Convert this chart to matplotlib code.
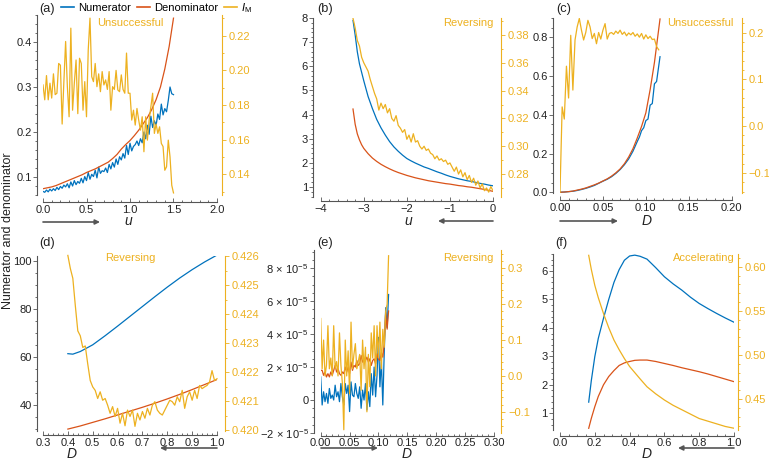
import numpy as np
import matplotlib
matplotlib.use("Agg")
import matplotlib.pyplot as plt
from matplotlib.ticker import MultipleLocator, FuncFormatter
from matplotlib.patches import FancyArrowPatch
from matplotlib.lines import Line2D

plt.rcParams['font.family'] = ['Liberation Sans', 'DejaVu Sans']
plt.rcParams['mathtext.fontset'] = 'custom'
plt.rcParams['mathtext.rm'] = 'Liberation Sans'
plt.rcParams['mathtext.it'] = 'Liberation Sans:italic'

BLUE, ORANGE, YEL = '#0072BD', '#D95319', '#EDB120'
SPINE, TXT, ARROW = '#555555', '#222222', '#555555'

# ---------------- data ----------------
# (a)
a_u_num = np.linspace(0.0, 1.5, 76)
a_num = [0.068,0.066,0.071,0.067,0.073,0.069,0.074,0.070,0.077,0.072,
         0.079,0.075,0.082,0.078,0.085,0.076,0.089,0.080,0.092,0.083,
         0.090,0.086,0.097,0.087,0.101,0.092,0.110,0.095,0.106,0.101,
         0.115,0.098,0.122,0.108,0.114,0.112,0.120,0.110,0.128,0.118,
         0.132,0.122,0.140,0.128,0.145,0.138,0.152,0.142,0.170,0.150,
         0.175,0.158,0.168,0.172,0.180,0.170,0.185,0.176,0.200,0.185,
         0.215,0.195,0.235,0.210,0.225,0.215,0.240,0.228,0.262,0.238,
         0.252,0.245,0.270,0.300,0.285,0.283]
a_u_den = np.linspace(0.0, 1.5, 31)
a_den = [0.074,0.076,0.078,0.081,0.085,0.089,0.093,0.097,0.101,0.105,
         0.110,0.114,0.118,0.123,0.128,0.133,0.141,0.150,0.162,0.172,
         0.181,0.192,0.204,0.218,0.232,0.250,0.272,0.300,0.340,0.390,0.453]
a_im = [0.1916,0.183,0.197,0.183,0.1926,0.184,0.198,0.186,0.1868,0.204,
        0.203,0.169,0.1935,0.2167,0.1906,0.1732,0.2244,0.177,0.1926,0.206,
        0.175,0.207,0.204,0.177,0.1935,0.1732,0.2119,0.2302,0.1964,0.1935,
        0.204,0.1906,0.198,0.1877,0.1993,0.1916,0.1945,0.189,0.1993,0.177,
        0.1906,0.189,0.200,0.1887,0.1877,0.1974,0.189,0.1868,0.210,0.1868,
        0.1868,0.1713,0.177,0.1684,0.178,0.1713,0.1655,0.1732,0.153,0.1732,
        0.1597,0.1713,0.179,0.1868,0.1636,0.169,0.1636,0.1674,0.1578,0.156,
        0.1423,0.1443,0.1597,0.150,0.1336,0.1292]

# (b)
b_u = [-3.25,-3.2,-3.15,-3.1,-3.05,-3.0,-2.9,-2.8,-2.7,-2.6,-2.5,-2.4,-2.3,-2.2,
       -2.1,-2.0,-1.9,-1.8,-1.7,-1.6,-1.5,-1.4,-1.3,-1.2,-1.1,-1.0,-0.9,-0.8,
       -0.7,-0.6,-0.5,-0.4,-0.3,-0.2,-0.1,0.0]
b_num = [7.9,7.3,6.6,6.1,5.75,5.4,4.75,4.25,3.8,3.45,3.15,2.88,2.66,2.48,
         2.32,2.18,2.08,1.99,1.91,1.83,1.77,1.70,1.63,1.57,1.50,1.44,1.39,1.34,
         1.30,1.26,1.23,1.19,1.15,1.12,1.08,1.05]
b_den = [4.23,3.6,3.2,2.95,2.75,2.6,2.38,2.2,2.06,1.94,1.84,1.75,1.67,1.6,
         1.54,1.48,1.43,1.38,1.34,1.30,1.26,1.23,1.20,1.17,1.14,1.12,1.09,1.06,
         1.04,1.01,0.99,0.96,0.93,0.90,0.86,0.82]
b_u_im = np.linspace(-3.25, 0.0, 66)
b_im = [0.392,0.385,0.376,0.372,0.364,0.360,0.357,0.354,0.348,0.343,
        0.338,0.334,0.326,0.331,0.327,0.330,0.324,0.327,0.320,0.318,
        0.322,0.315,0.313,0.310,0.312,0.305,0.308,0.303,0.309,0.303,
        0.304,0.300,0.298,0.300,0.297,0.298,0.295,0.294,0.291,0.293,
        0.290,0.291,0.289,0.290,0.287,0.288,0.285,0.282,0.285,0.280,
        0.283,0.278,0.281,0.276,0.279,0.274,0.277,0.272,0.275,0.270,
        0.273,0.268,0.270,0.267,0.271,0.268]

# (c)
c_D_num = [0,0.005,0.01,0.015,0.02,0.025,0.03,0.035,0.04,0.045,0.05,0.055,0.06,
           0.065,0.07,0.075,0.08,0.085,0.09,0.0925,0.095,0.0975,0.10,0.1025,
           0.105,0.1075,0.11,0.1125,0.1165]
c_num = [0,0.001,0.003,0.005,0.009,0.014,0.020,0.027,0.035,0.046,0.057,0.067,0.080,
         0.097,0.117,0.142,0.172,0.212,0.262,0.285,0.318,0.333,0.370,0.378,
         0.450,0.458,0.560,0.572,0.700]
c_D_den = [0,0.005,0.01,0.015,0.02,0.025,0.03,0.035,0.04,0.045,0.05,0.055,0.06,
           0.065,0.07,0.075,0.08,0.085,0.09,0.095,0.10,0.105,0.11,0.1165]
c_den = [0,0.001,0.003,0.006,0.011,0.016,0.022,0.030,0.038,0.047,0.058,0.069,0.083,
         0.100,0.120,0.147,0.182,0.225,0.280,0.340,0.410,0.530,0.670,0.895]
c_D_im = np.linspace(0.0, 0.115, 47)
c_im = [-0.142,0.041,0.015,0.128,0.060,0.194,0.077,0.184,0.212,0.230,
        0.205,0.184,0.200,0.226,0.212,0.187,0.198,0.176,0.200,0.186,
        0.205,0.219,0.186,0.198,0.200,0.196,0.203,0.198,0.205,0.196,
        0.201,0.193,0.199,0.195,0.200,0.192,0.197,0.190,0.198,0.186,
        0.195,0.187,0.192,0.185,0.186,0.170,0.163]

# (d)
d_D_num = [0.40,0.42,0.45,0.50,0.55,0.60,0.65,0.70,0.75,0.80,0.85,0.90,0.95,1.00]
d_num = [61.3,61.1,62.2,65.0,68.8,72.8,76.9,81.0,85.1,89.1,92.9,96.4,99.6,102.5]
d_D_den = np.linspace(0.40, 1.00, 13)
d_den = [29.8,31.1,32.6,34.1,35.7,37.3,38.9,40.6,42.4,44.3,46.3,48.4,50.5]
d_D_im = np.linspace(0.40, 1.00, 61)
d_im = [0.42603,0.42558,0.42524,0.42430,0.42343,0.42326,0.42286,0.42291,0.42229,0.42172,
        0.42150,0.42138,0.42110,0.42133,0.42104,0.42110,0.42087,0.42059,0.42082,0.42048,
        0.42076,0.42025,0.42059,0.42016,0.42070,0.42048,0.42070,0.42014,0.42059,0.42036,
        0.42065,0.42042,0.42076,0.42053,0.42087,0.42099,0.42070,0.42059,0.42053,0.42070,
        0.42087,0.42104,0.42099,0.42087,0.42116,0.42099,0.42138,0.42076,0.42116,0.42133,
        0.42104,0.42138,0.42110,0.42155,0.42144,0.42150,0.42155,0.42167,0.42206,0.42172,
        0.42178]

# (e)  values of numerator/denominator in units of 1e-5
e_D = np.linspace(0.0, 0.1175, 48)
e_num = [1.4,-0.3,0.5,-0.1,0.4,-0.2,0.7,0.1,0.3,0.0,
         0.9,0.2,0.5,-0.1,1.0,0.2,-0.3,1.0,0.4,0.9,
         -0.7,1.1,0.3,0.2,1.0,0.4,0.1,0.8,-0.5,0.6,
         0.0,1.0,-0.6,0.5,-0.4,1.6,0.3,2.0,0.2,1.5,
         3.8,0.8,2.4,-0.3,2.9,5.6,4.4,6.4]
e_den = [1.8,1.8,1.5,1.7,1.4,1.6,1.4,1.7,1.5,1.8,
         2.1,1.7,1.9,1.6,1.5,1.7,1.6,2.0,1.7,2.0,
         1.6,2.3,1.8,2.1,2.0,2.4,2.1,2.2,2.7,2.3,
         2.5,2.4,2.6,2.3,2.5,2.1,2.4,2.5,2.2,2.8,
         2.5,2.4,2.9,2.6,3.4,5.3,4.3,5.4]
e_im = [0.16,0.02,0.10,0.00,0.03,0.14,0.02,0.05,0.00,0.14,
        0.02,0.04,0.00,0.12,0.03,-0.02,-0.15,0.10,0.00,0.07,
        -0.05,0.15,0.02,0.06,0.09,0.02,0.04,0.06,-0.04,0.10,
        0.02,0.08,-0.10,0.06,-0.03,0.12,0.05,0.14,0.00,0.14,
        0.05,0.15,0.02,0.13,0.08,0.18,0.20,0.335]

# (f)
f_D = [0.165,0.18,0.20,0.22,0.25,0.28,0.31,0.34,0.37,0.40,0.43,0.46,0.50,0.55,
       0.60,0.65,0.70,0.75,0.80,0.85,0.90,0.95,1.00]
f_num = [1.39,2.15,2.99,3.63,4.34,5.0,5.6,6.05,6.38,6.53,6.56,6.52,6.42,6.12,
         5.8,5.55,5.33,5.08,4.86,4.68,4.51,4.35,4.2]
f_den = [0.47,0.82,1.23,1.59,2.0,2.29,2.5,2.68,2.77,2.82,2.86,2.87,2.87,2.82,
         2.75,2.68,2.6,2.53,2.46,2.38,2.29,2.2,2.11]
f_im = [0.613,0.597,0.579,0.565,0.547,0.531,0.517,0.506,0.496,0.487,0.480,0.473,0.464,0.456,
        0.449,0.443,0.438,0.433,0.428,0.425,0.422,0.419,0.417]

# ---------------- figure ----------------
W, H = 769, 462
fig = plt.figure(figsize=(W / 100, H / 100), dpi=100)
PX = 0.72  # points per pixel


def fmt(dec):
    return FuncFormatter(lambda v, p: (f"{v:.{dec}f}").replace('-', '\u2212'))


def panel(box, xlim, ylim, ylim2, xt, yt, y2t, offs, xdec, ydec, y2dec, xpad=2.5):
    x0, x1, ytop, ybot = box
    ax = fig.add_axes([x0 / W, 1 - ybot / H, (x1 - x0) / W, (ybot - ytop) / H])
    ax.patch.set_alpha(0)
    ax2 = ax.twinx()
    ax.set_xlim(*xlim)
    ax.set_ylim(*ylim)
    ax2.set_ylim(*ylim2)
    ob, ol, orr = offs
    for s in ('top', 'right'):
        ax.spines[s].set_visible(False)
    for s in ('top', 'left', 'bottom'):
        ax2.spines[s].set_visible(False)
    ax.spines['bottom'].set_position(('outward', ob * PX))
    ax.spines['left'].set_position(('outward', ol * PX))
    ax2.spines['right'].set_position(('outward', orr * PX))
    for s in ('bottom', 'left'):
        ax.spines[s].set_color(SPINE)
        ax.spines[s].set_linewidth(0.8)
    ax2.spines['right'].set_color(YEL)
    ax2.spines['right'].set_linewidth(0.8)
    ax.xaxis.set_major_locator(MultipleLocator(xt[0]))
    ax.xaxis.set_minor_locator(MultipleLocator(xt[1]))
    ax.yaxis.set_major_locator(MultipleLocator(yt[0]))
    ax.yaxis.set_minor_locator(MultipleLocator(yt[1]))
    ax2.yaxis.set_major_locator(MultipleLocator(y2t[0]))
    ax2.yaxis.set_minor_locator(MultipleLocator(y2t[1]))
    if xdec is not None:
        ax.xaxis.set_major_formatter(fmt(xdec))
    if ydec is not None:
        ax.yaxis.set_major_formatter(fmt(ydec))
    ax2.yaxis.set_major_formatter(fmt(y2dec))
    ax.tick_params(axis='x', which='both', direction='in', colors=SPINE,
                   labelcolor=TXT, labelsize=8, pad=xpad, width=0.6)
    ax.tick_params(axis='x', which='major', length=3.2)
    ax.tick_params(axis='x', which='minor', length=1.8)
    ax.tick_params(axis='y', which='both', direction='out', colors=SPINE,
                   labelcolor=TXT, labelsize=8, pad=1.2, width=0.6)
    ax.tick_params(axis='y', which='major', length=2.6)
    ax.tick_params(axis='y', which='minor', length=1.5)
    ax2.tick_params(axis='y', which='both', direction='out', colors=YEL,
                    labelcolor=YEL, labelsize=8, pad=2.5, width=0.6)
    ax2.tick_params(axis='y', which='major', length=2.6)
    ax2.tick_params(axis='y', which='minor', length=1.5)
    return ax, ax2


def ftext(x, y, s, **kw):
    fig.text(x / W, 1 - y / H, s, **kw)


def arrow(xa, xb, y):
    fig.add_artist(FancyArrowPatch((xa / W, 1 - y / H), (xb / W, 1 - y / H),
                                   transform=fig.transFigure, arrowstyle='-|>',
                                   mutation_scale=7, lw=1.2, color=ARROW,
                                   shrinkA=0, shrinkB=0))


LW = 0.9
# (a)
ax, ax2 = panel((43, 217, 15, 195), (0, 2), (0.06, 0.46), (0.128, 0.232),
                (0.5, 0.1), (0.1, 0.02), (0.02, 0.01), (6.5, 6, 5), 1, 1, 2)
ax.plot(a_u_num, a_num, color=BLUE, lw=LW)
ax.plot(a_u_den, a_den, color=ORANGE, lw=LW)
ax2.plot(a_u_num, a_im, color=YEL, lw=LW)

# (b)
ax, ax2 = panel((320.7, 493, 18, 197), (-4, 0), (0.586, 8.0), (0.2635, 0.3922),
                (1, 0.2), (1, 0.2), (0.02, 0.01), (3.5, 7.5, 8), 0, 0, 2)
ax.plot(b_u, b_num, color=BLUE, lw=LW)
ax.plot(b_u, b_den, color=ORANGE, lw=LW)
ax2.plot(b_u_im, b_im, color=YEL, lw=LW)

# (c)
ax, ax2 = panel((560, 731.7, 18, 193), (0, 0.2), (-0.004, 0.90), (-0.143, 0.231),
                (0.05, 0.01), (0.2, 0.05), (0.1, 0.02), (7, 7, 10), 2, 1, 1)
ax.plot(c_D_num, c_num, color=BLUE, lw=LW)
ax.plot(c_D_den, c_den, color=ORANGE, lw=LW)
ax2.plot(c_D_im, c_im, color=YEL, lw=LW)

# (d)
ax, ax2 = panel((43, 217, 256, 431), (0.3, 1.0), (29.0, 102.1), (0.41998, 0.42601),
                (0.1, 0.02), (20, 5), (0.001, 0.0005), (4, 6, 8), 1, 0, 3, xpad=1.8)
ax.plot(d_D_num, d_num, color=BLUE, lw=LW)
ax.plot(d_D_den, d_den, color=ORANGE, lw=LW)
ax2.plot(d_D_im, d_im, color=YEL, lw=LW, clip_on=False)

# (e)
ax, ax2 = panel((320.7, 494, 250, 433), (0, 0.3), (-2.0, 9.1), (-0.159, 0.351),
                (0.05, 0.01), (2, 0.5), (0.1, 0.02), (2.5, 6.7, 7), 2, None, 1, xpad=1.8)


def e_fmt(v, p):
    n = int(round(v))
    if n == 0:
        return '0'
    return rf'${n}\,\times\,10^{{-5}}$'


ax.yaxis.set_major_formatter(FuncFormatter(e_fmt))
ax.plot(e_D, e_num, color=BLUE, lw=LW)
ax.plot(e_D, e_den, color=ORANGE, lw=LW)
ax2.plot(e_D, e_im, color=YEL, lw=LW)

# (f)
ax, ax2 = panel((560, 734, 254, 430), (0, 1.0), (0.41, 6.6), (0.415, 0.6145),
                (0.2, 0.05), (1, 0.2), (0.05, 0.01), (5.5, 7, 4), 1, 0, 2, xpad=1.8)
ax.plot(f_D, f_num, color=BLUE, lw=LW)
ax.plot(f_D, f_den, color=ORANGE, lw=LW)
ax2.plot(f_D, f_im, color=YEL, lw=LW)

# ---- annotations ----
for lab, x, y in [('(a)', 39, 9), ('(b)', 317, 9), ('(c)', 556, 9),
                  ('(d)', 39, 243), ('(e)', 317, 243), ('(f)', 555, 243)]:
    ftext(x, y, lab, fontsize=9.2, color=TXT, ha='left', va='center')

status = dict(fontsize=8, color=YEL, va='center')
ftext(130, 23, 'Unsuccessful', ha='center', **status)
ftext(494, 23, 'Reversing', ha='right', **status)
ftext(734, 23, 'Unsuccessful', ha='right', **status)
ftext(130, 258, 'Reversing', ha='center', **status)
ftext(494, 258, 'Reversing', ha='right', **status)
ftext(735, 258, 'Accelerating', ha='right', **status)

xl = dict(fontsize=10, style='italic', color=TXT, ha='center', va='center')
ftext(128, 221, 'u', **xl)
ftext(408, 221, 'u', **xl)
ftext(647, 221, 'D', **xl)
ftext(72, 454, 'D', **xl)
ftext(407, 454, 'D', **xl)
ftext(647, 454, 'D', **xl)

arrow(43, 100, 222)
arrow(493, 438, 221)
arrow(560, 618, 221)
arrow(217, 160, 448)
arrow(321, 378, 448)
arrow(734, 678, 448)

ftext(8, 231, 'Numerator and denominator', rotation=90, fontsize=9,
      color=TXT, ha='center', va='center')

handles = [Line2D([], [], color=BLUE, lw=1.2), Line2D([], [], color=ORANGE, lw=1.2),
           Line2D([], [], color=YEL, lw=1.2)]
fig.legend(handles, ['Numerator', 'Denominator', r'$I_{\mathrm{M}}$'], ncol=3,
           loc='center left', bbox_to_anchor=(61 / W, 1 - 8 / H), frameon=False,
           fontsize=8, handlelength=1.2, handletextpad=0.35, columnspacing=0.5,
           borderpad=0, borderaxespad=0)

fig.savefig('out.png', dpi=100)
